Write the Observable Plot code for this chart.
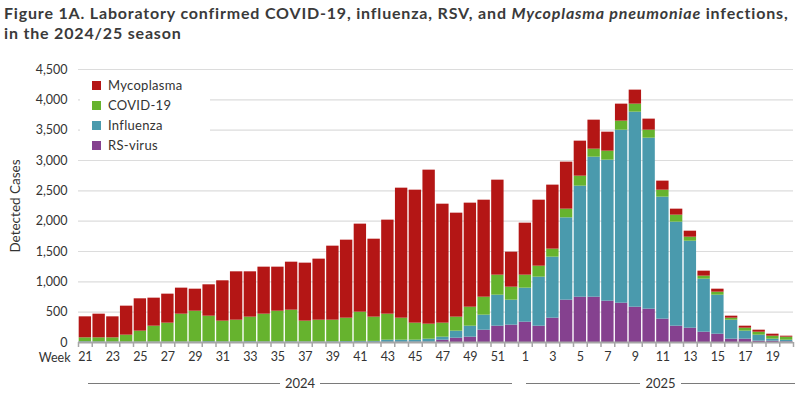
<!DOCTYPE html>
<html><head><meta charset="utf-8">
<script src="https://cdn.jsdelivr.net/npm/d3@7"></script>
<script src="https://cdn.jsdelivr.net/npm/@observablehq/plot@0.6"></script>
<style>
body{margin:0;background:#fff;font-family:Lato,"Open Sans",sans-serif;}
#wrap{position:relative;width:800px;height:396px;overflow:hidden}
#title{position:absolute;left:4px;top:3px;font-weight:bold;font-size:16px;letter-spacing:0.82px;line-height:20px;color:#3a3a3a;white-space:nowrap}
#chart{position:absolute;left:0;top:45px}
#legend{position:absolute;left:80px;top:73px;width:118px;background:#fff;padding:2px 0 4px 12px;font-size:13px;color:#333;letter-spacing:0.3px}
#legend .row{height:20px;display:flex;align-items:center}
#legend .sw{width:9px;height:9px;margin-right:7px}
.year{position:absolute;top:376px;height:14px;display:flex;align-items:center;font-size:13px;color:#333}
.year .ln{flex:1;border-top:1px solid #7a7a7a}
.year span{padding:0 5px}
</style></head>
<body>
<div id="wrap">
<div id="title">Figure 1A. Laboratory confirmed COVID-19, influenza, RSV, and <i>Mycoplasma pneumoniae</i> infections,<br>in the 2024/25 season</div>
<div id="chart"></div>
<div id="legend"></div>
<div class="year" style="left:88px;width:424px"><div class="ln"></div><span>2024</span><div class="ln"></div></div>
<div class="year" style="left:526px;width:269px"><div class="ln"></div><span>2025</span><div class="ln"></div></div>
</div>
<script>
const weeks = [21,22,23,24,25,26,27,28,29,30,31,32,33,34,35,36,37,38,39,40,41,42,43,44,45,46,47,48,49,50,51,52,
  1,2,3,4,5,6,7,8,9,10,11,12,13,14,15,16,17,18,19,20];
const years = [2024,2024,2024,2024,2024,2024,2024,2024,2024,2024,2024,2024,2024,2024,2024,2024,2024,2024,2024,2024,2024,2024,2024,2024,2024,2024,2024,2024,2024,2024,2024,2024,
  2025,2025,2025,2025,2025,2025,2025,2025,2025,2025,2025,2025,2025,2025,2025,2025,2025,2025,2025,2025];
const rsv = [2,2,2,2,2,2,2,2,2,2,2,2,2,2,2,2,2,2,2,2,2,2,3,4,5,6,38,71,88,203,269,286,
  335,269,401,698,747,747,681,648,582,550,385,269,236,170,137,55,55,22,22,11];
const influenza = [10,8,6,6,6,6,6,6,6,12,8,8,12,8,10,10,8,8,10,14,16,16,35,34,33,49,50,116,181,248,511,412,
  561,808,1006,1357,1830,2308,2325,2852,3215,2818,2011,1715,1434,874,643,313,132,99,33,27];
const covid = [65,67,69,113,179,261,311,459,508,420,342,358,404,457,504,521,342,358,356,385,482,400,429,363,281,247,231,231,313,296,330,214,
  214,181,132,143,165,132,148,149,132,132,115,115,66,50,50,33,49,49,49,50];
const mycoplasma = [346,390,346,478,533,462,478,429,363,517,665,797,747,775,726,791,956,1006,1220,1286,1451,1285,1550,2143,2192,2539,1961,1714,1715,1599,1566,577,
  857,1088,1055,775,577,478,313,280,231,182,149,99,99,82,49,33,33,33,33,16];
const seriesNames = ["RS-virus","Influenza","COVID-19","Mycoplasma"];
const seriesColors = ["#85418F","#4A9AAD","#66B32E","#B41615"];
const legendOrder = ["Mycoplasma","COVID-19","Influenza","RS-virus"];
const yTicks = [0,500,1000,1500,2000,2500,3000,3500,4000,4500];

const keys = weeks.map((w,i) => `${years[i]}-${w}`);
const weekOf = new Map(keys.map((k,i) => [k, weeks[i]]));
const seriesValues = [rsv, influenza, covid, mycoplasma];
const rows = [];
seriesNames.forEach((s,si) => keys.forEach((k,i) => rows.push({key:k, series:s, value:seriesValues[si][i]})));

const W = 800, H = 351, mL = 78, mR = 7;
const pIn = 0.1, pOut = 0.05;
const step = (W - mL - mR) / (keys.length - pIn + 2*pOut);

const chart = Plot.plot({
  width: W, height: H,
  marginLeft: mL, marginRight: mR, marginTop: 24, marginBottom: 54,
  style: {fontFamily: "Lato, 'Open Sans', sans-serif", fontSize: "12.5px", color: "#333", background: "#fff"},
  x: {type: "band", domain: keys, paddingInner: pIn, paddingOuter: pOut},
  y: {domain: [0, 4500]},
  color: {domain: seriesNames, range: seriesColors},
  marks: [
    Plot.gridY(yTicks.filter(d => d > 0), {stroke: "#dcdcdc", strokeOpacity: 1, strokeWidth: 1.2}),
    Plot.barY(rows, {x: "key", y: "value", fill: "series", order: seriesNames, inset: 0}),
    Plot.ruleY([0], {stroke: "#a6a6a6", strokeWidth: 2}),
    Plot.axisY(yTicks, {tickSize: 0, tickPadding: 11, tickFormat: d3.format(","), fontSize: 12.5, label: null}),
    Plot.text(["Detected Cases"], {frameAnchor: "left", textAnchor: "middle", lineAnchor: "middle", rotate: -90, dx: -63, fontSize: 13.5, fill: "#333"}),
    Plot.axisX(keys, {tickSize: 5, text: null, stroke: "#a6a6a6", strokeWidth: 1.5, dx: -step/2, label: null}),
    Plot.axisX([keys[keys.length-1]], {tickSize: 5, text: null, stroke: "#a6a6a6", strokeWidth: 1.5, dx: step/2, label: null}),
    Plot.axisX(keys.filter(k => weekOf.get(k) % 2 === 1), {tickSize: 0, tickPadding: 10, fontSize: 12.5,
      tickFormat: k => String(weekOf.get(k)), label: null}),
    Plot.text(["Week"], {frameAnchor: "bottom-left", textAnchor: "end", dx: -8, dy: 19, fontSize: 12.5, fill: "#333"})
  ]
});
document.getElementById("chart").appendChild(chart);

const leg = document.getElementById("legend");
legendOrder.forEach(name => {
  const r = document.createElement("div"); r.className = "row";
  const sw = document.createElement("div"); sw.className = "sw";
  sw.style.background = seriesColors[seriesNames.indexOf(name)];
  const t = document.createElement("span"); t.textContent = name;
  r.appendChild(sw); r.appendChild(t); leg.appendChild(r);
});
</script>
</body></html>
